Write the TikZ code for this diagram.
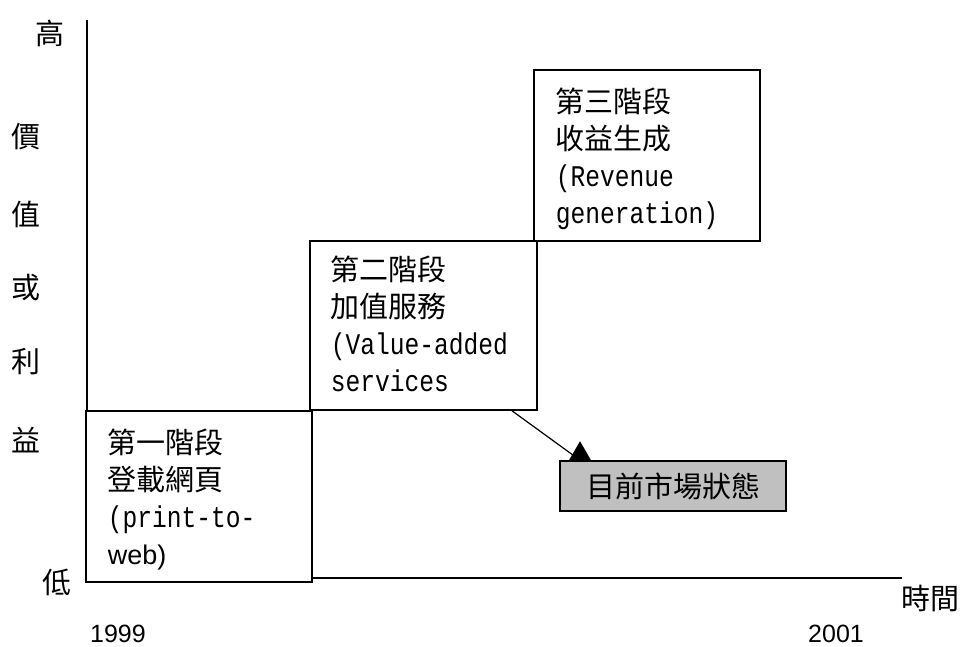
\documentclass[tikz,border=0pt]{standalone}
\usepackage{fontspec}
\newfontfamily\cjk{Noto Sans CJK TC}
\newfontfamily\monof[FakeStretch=0.82]{Liberation Mono}
\newfontfamily\arialf{Liberation Sans}
\newcommand\monotext{\monof\fontsize{30}{37}\selectfont}
\newcommand\webtext{\arialf\fontsize{27}{37}\selectfont}
\begin{document}
\begin{tikzpicture}[x=1pt,y=-1pt,line width=1.6pt,
  stagebox/.style={draw,black,rectangle,inner sep=0pt},
  stagetext/.style={anchor=north west,inner sep=0pt,align=left,font=\fontsize{29}{37}\selectfont},
  axlabel/.style={inner sep=0pt,font=\cjk\fontsize{29}{30}\selectfont},
  yearlabel/.style={inner sep=0pt,font=\arialf\fontsize{25}{26}\selectfont}]
\useasboundingbox (0,0) rectangle (964,647);
% axes
\coordinate (ytop) at (87,20);
\coordinate (ybot) at (87,411);
\coordinate (xleft) at (312,578);
\coordinate (xright) at (902,578);
\draw (ytop) -- (ybot);
\draw (xleft) -- (xright);
% boxes
\node[stagebox,minimum width=226pt,minimum height=171pt] (box1) at (199,496.5) {};
\node[stagebox,minimum width=227pt,minimum height=169pt] (box2) at (423.5,325.5) {};
\node[stagebox,minimum width=226pt,minimum height=171pt] (box3) at (647,155.5) {};
\node[stagetext] (t1) at (107,428) {{\cjk 第一階段}\\{\cjk 登載網頁}\\{\monotext (print-to-}\\{\webtext web)}};
\node[stagetext] (t2) at (330,255) {{\cjk 第二階段}\\{\cjk 加值服務}\\{\monotext (Value-added}\\{\monotext services}};
\node[stagetext] (t3) at (555,87) {{\cjk 第三階段}\\{\cjk 收益生成}\\{\monotext (Revenue}\\{\monotext generation)}};
% current state
\node[draw,black,fill={rgb,255:red,192;green,192;blue,192},minimum width=226pt,minimum height=50pt,inner sep=0pt,font=\cjk\fontsize{29}{30}\selectfont] (cur) at (673,486) {目前市場狀態};
\coordinate (arrstart) at ([xshift=88.5pt]box2.south);
\coordinate (arrtip) at ([xshift=-93pt,yshift=19pt]cur.north);
\draw[line width=1.2pt] (arrstart) -- ([xshift=-93pt]cur.north);
\fill (arrtip) -- ++(11,19) -- ++(-22,0) -- cycle;
% axis labels
\node[axlabel] (hi) at (50,33) {高};
\node[axlabel] (l1) at (26,137) {價};
\node[axlabel] (l2) at (26,214) {值};
\node[axlabel] (l3) at (26,288) {或};
\node[axlabel] (l4) at (26,362) {利};
\node[axlabel] (l5) at (26,440) {益};
\node[axlabel] (lo) at (57,582) {低};
\node[axlabel] (time) at (930,598) {時間};
\node[yearlabel] (y1) at (118,634) {1999};
\node[yearlabel] (y2) at (836,634) {2001};
\end{tikzpicture}
\end{document}
